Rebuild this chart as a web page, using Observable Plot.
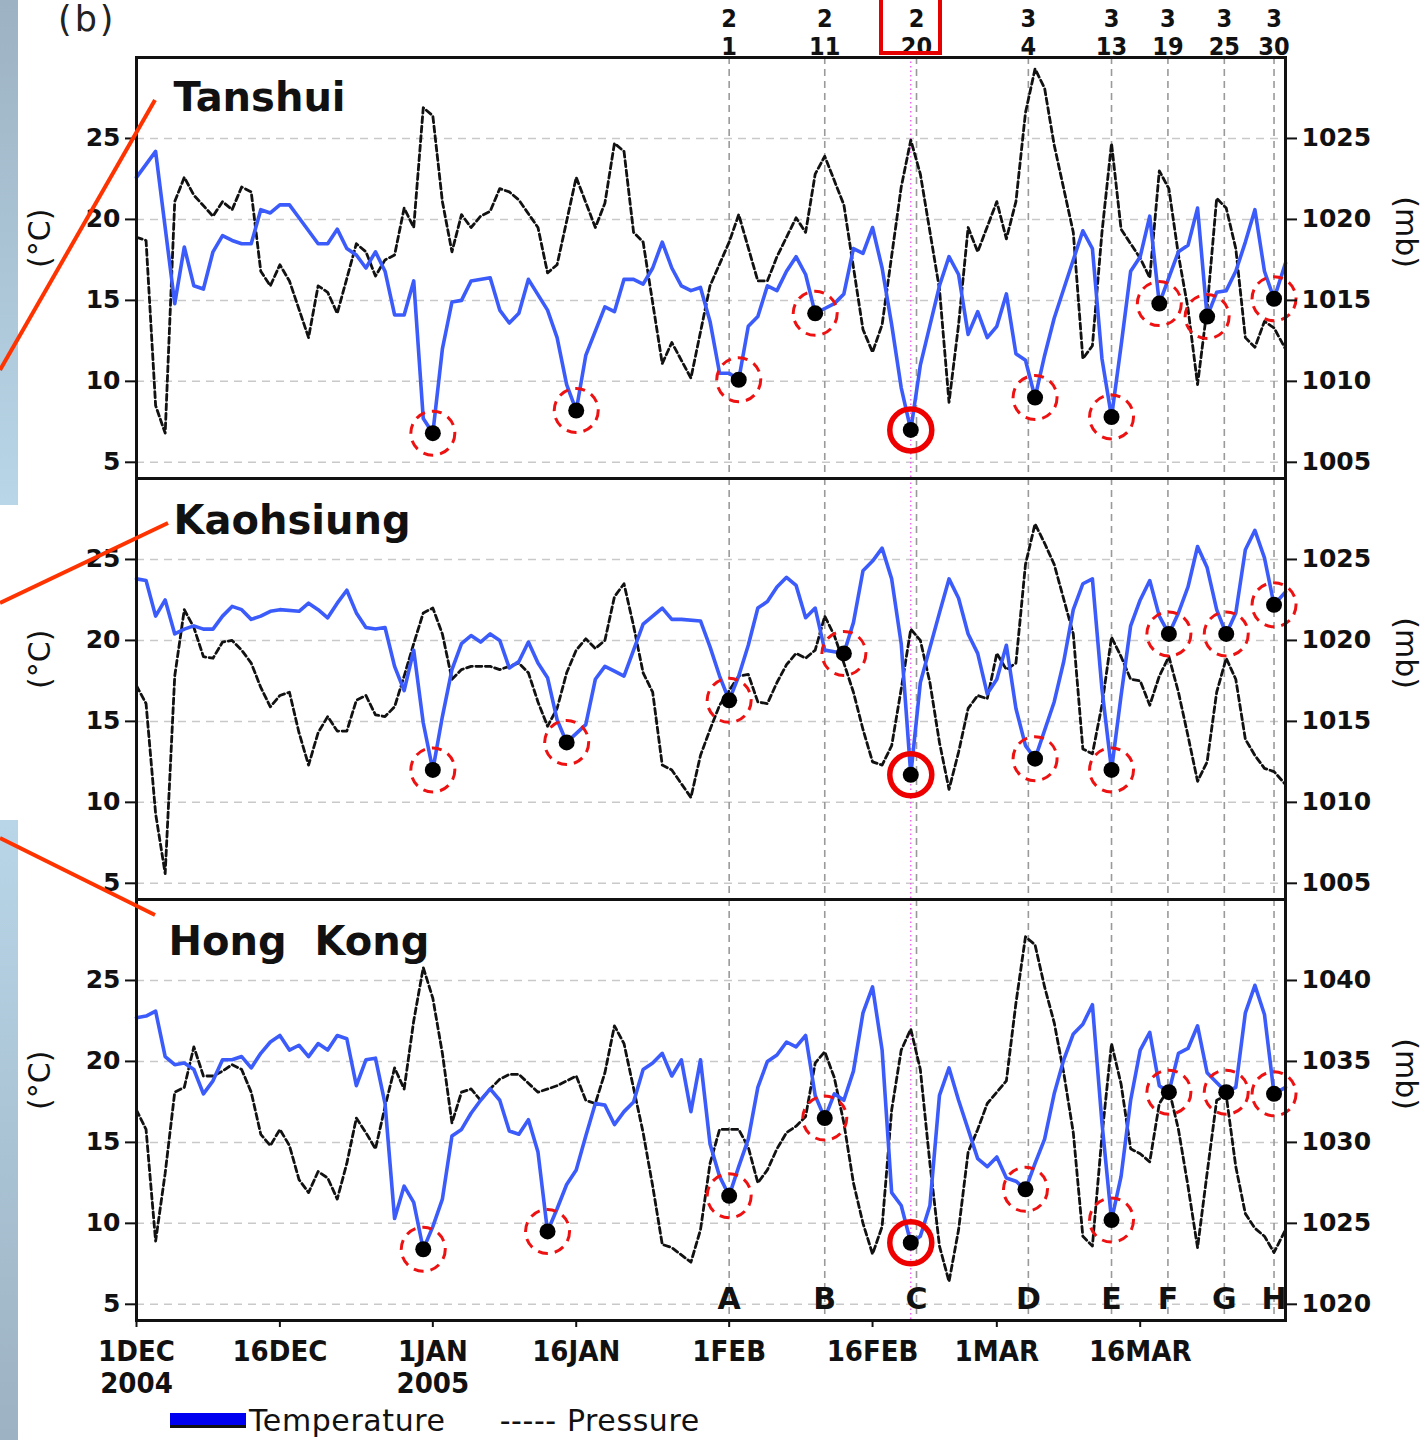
<!DOCTYPE html>
<html><head><meta charset="utf-8">
<script src="https://cdn.jsdelivr.net/npm/d3@7"></script>
<script src="https://cdn.jsdelivr.net/npm/@observablehq/plot@0.6"></script>
<style>
body{margin:0;background:#fff;}
#wrap{position:relative;width:1423px;height:1440px;overflow:hidden;background:#fff;}
#wrap svg.panel{position:absolute;left:0;overflow:visible;background:transparent !important;max-width:none;}
.deco{position:absolute;}
</style></head><body><div id="wrap"></div>
<script>
// ---- data (day offsets from 1 Dec 2004) ----
const startUTC = Date.UTC(2004, 11, 1);
const toDate = d => new Date(startUTC + d * 864e5);

const stationNames = ["Tanshui", "Kaohsiung", "Hong  Kong"];
const pressureOffsets = [1000, 1000, 1015];

const tanshuiTemp = [[0,22.6],[2,24.2],[4,14.8],[5,18.3],[6,15.9],[7,15.7],[8,18.0],[9,19.0],[10,18.7],[11,18.5],[12,18.5],[13,20.6],[14,20.4],[15,20.9],[16,20.9],[17,20.1],[19,18.5],[20,18.5],[21,19.4],[22,18.2],[23,17.8],[24,17.0],[25,18.0],[26,16.8],[27,14.1],[28,14.1],[29,16.2],[30,7.7],[31,6.8],[32,12.0],[33,14.9],[34,15.0],[35,16.2],[37,16.4],[38,14.4],[39,13.6],[40,14.2],[41,16.3],[43,14.4],[44,12.7],[45,9.8],[46,8.2],[47,11.6],[48,13.1],[49,14.6],[50,14.3],[51,16.3],[52,16.3],[53,16.0],[54,17.0],[55,18.6],[56,17.0],[57,15.9],[58,15.6],[59,15.8],[60,13.7],[61,10.5],[62,10.5],[63,10.1],[64,13.4],[65,14.0],[66,15.9],[67,15.6],[68,16.8],[69,17.7],[70,16.6],[71,14.2],[72,14.5],[73,14.8],[74,15.4],[75,18.2],[76,17.9],[77,19.5],[78,17.0],[79,13.5],[80,9.6],[81,7.0],[82,11.0],[84,15.9],[85,17.7],[86,16.6],[87,12.9],[88,14.3],[89,12.7],[90,13.4],[91,15.4],[92,11.7],[93,11.3],[94,9.0],[95,11.6],[96,13.9],[97,15.7],[99,19.3],[100,18.2],[101,11.4],[102,7.8],[103,12.2],[104,16.8],[105,17.7],[106,20.2],[107,14.8],[108,16.4],[109,18.0],[110,18.4],[111,20.7],[112,14.0],[113,15.5],[114,15.6],[115,16.8],[116,18.6],[117,20.6],[118,16.8],[119,15.1],[120.2,17.3]];
const tanshuiPres = [[0,1018.9],[1,1018.7],[2,1008.5],[3,1006.8],[4,1021.1],[5,1022.6],[6,1021.5],[8,1020.2],[9,1021.1],[10,1020.6],[11,1022.0],[12,1021.7],[13,1016.8],[14,1015.9],[15,1017.2],[16,1016.2],[18,1012.7],[19,1015.9],[20,1015.5],[21,1014.2],[23,1018.5],[24,1018.0],[25,1016.5],[26,1017.5],[27,1017.8],[28,1020.7],[29,1019.5],[30,1026.9],[31,1026.4],[32,1021.1],[33,1018.0],[34,1020.3],[35,1019.5],[36,1020.2],[37,1020.5],[38,1021.9],[39,1021.7],[40,1021.2],[42,1019.5],[43,1016.7],[44,1017.2],[46,1022.6],[48,1019.5],[49,1021.0],[50,1024.7],[51,1024.2],[52,1019.2],[53,1018.6],[55,1011.1],[56,1012.4],[58,1010.2],[60,1015.9],[62,1018.6],[63,1020.3],[65,1016.2],[66,1016.2],[67,1017.7],[69,1020.1],[70,1019.2],[71,1022.8],[72,1023.9],[74,1020.9],[76,1013.2],[77,1011.8],[78,1013.5],[80,1022.0],[81,1024.9],[82,1022.8],[84,1015.7],[85,1008.7],[86,1013.5],[87,1019.5],[88,1018.0],[90,1021.1],[91,1018.8],[92,1021.1],[93,1026.6],[94,1029.3],[95,1028.1],[96,1024.6],[98,1019.2],[99,1011.4],[100,1012.2],[101,1019.2],[102,1024.7],[103,1019.4],[105,1017.6],[106,1016.4],[107,1023.0],[108,1021.9],[109,1017.8],[110,1014.5],[111,1009.8],[112,1014.5],[113,1021.3],[114,1020.7],[115,1018.2],[116,1012.7],[117,1012.1],[118,1013.7],[119,1013.3],[120.2,1012.0]];
const tanshuiDots = [[31,6.8],[46,8.2],[63,10.1],[71,14.2],[81,7.0],[94,9.0],[102,7.8],[107,14.8],[112,14.0],[119,15.1]];

const kaohsiungTemp = [[0,23.8],[1,23.7],[2,21.5],[3,22.5],[4,20.4],[5,20.7],[6,20.9],[7,20.7],[8,20.7],[9,21.5],[10,22.1],[11,21.9],[12,21.3],[13,21.5],[14,21.8],[15,21.9],[17,21.8],[18,22.3],[19,21.9],[20,21.4],[21,22.3],[22,23.1],[23,21.7],[24,20.8],[25,20.7],[26,20.8],[27,18.4],[28,16.9],[29,19.4],[30,14.9],[31,12.0],[32,15.3],[33,18.2],[34,19.8],[35,20.3],[36,19.9],[37,20.4],[38,20.0],[39,18.3],[40,18.7],[41,19.9],[42,18.6],[43,17.7],[44,15.1],[45,13.7],[47,14.8],[48,17.6],[49,18.4],[50,18.1],[51,17.8],[52,19.4],[53,21.0],[54,21.5],[55,22.0],[56,21.3],[57,21.3],[59,21.2],[60,19.6],[61,17.8],[62,16.3],[63,17.8],[64,19.7],[65,22.0],[66,22.4],[67,23.3],[68,23.9],[69,23.4],[70,21.4],[71,22.0],[72,19.4],[73,19.3],[74,19.2],[75,21.1],[76,24.3],[77,24.9],[78,25.7],[79,23.8],[80,19.8],[81,11.7],[82,17.4],[84,21.7],[85,23.8],[86,22.6],[87,20.4],[88,19.2],[89,16.7],[90,17.6],[91,19.7],[92,15.8],[93,13.5],[94,12.7],[96,16.2],[97,18.7],[98,21.9],[99,23.5],[100,23.8],[101,17.0],[102,12.0],[103,16.6],[104,20.9],[105,22.5],[106,23.7],[107,21.5],[108,20.4],[109,21.7],[110,23.3],[111,25.8],[112,24.5],[113,21.9],[114,20.4],[115,21.7],[116,25.6],[117,26.8],[118,25.1],[119,22.2],[120.2,23.0]];
const kaohsiungPres = [[0,1017.2],[1,1016.1],[2,1009.3],[3,1005.6],[4,1017.8],[5,1021.9],[6,1020.8],[7,1019.0],[8,1018.9],[9,1019.9],[10,1020.0],[11,1019.4],[12,1018.6],[13,1017.1],[14,1015.9],[15,1016.6],[16,1016.8],[17,1014.3],[18,1012.3],[19,1014.3],[20,1015.3],[21,1014.4],[22,1014.4],[23,1016.3],[24,1016.6],[25,1015.4],[26,1015.3],[27,1015.9],[28,1017.8],[29,1019.8],[30,1021.7],[31,1022.0],[32,1020.4],[33,1017.6],[34,1018.2],[35,1018.4],[37,1018.4],[38,1018.2],[39,1018.4],[40,1018.6],[41,1018.0],[42,1016.2],[43,1014.7],[44,1015.8],[45,1018.0],[46,1019.4],[47,1020.1],[48,1019.5],[49,1020.0],[50,1022.7],[51,1023.5],[52,1020.9],[53,1018.0],[54,1016.8],[55,1012.3],[56,1012.0],[58,1010.3],[59,1012.9],[60,1014.5],[61,1016.0],[63,1017.8],[64,1017.9],[65,1016.2],[66,1016.1],[67,1017.4],[68,1018.5],[69,1019.2],[70,1018.9],[71,1019.4],[72,1021.5],[73,1020.3],[74,1018.6],[75,1016.8],[76,1014.5],[77,1012.5],[78,1012.3],[79,1013.5],[80,1017.0],[81,1020.7],[82,1020.0],[83,1017.4],[84,1013.7],[85,1010.8],[86,1013.1],[87,1015.8],[88,1016.6],[89,1016.4],[90,1019.2],[91,1018.2],[92,1018.6],[93,1024.7],[94,1027.2],[95,1026.0],[96,1024.7],[98,1020.4],[99,1013.3],[100,1013.0],[101,1016.0],[102,1020.2],[103,1019.0],[104,1017.6],[105,1017.5],[106,1016.0],[107,1017.8],[108,1019.0],[109,1016.8],[110,1014.1],[111,1011.3],[112,1012.5],[113,1016.8],[114,1018.9],[115,1017.6],[116,1013.9],[117,1012.9],[118,1012.1],[119,1011.9],[120.2,1011.1]];
const kaohsiungDots = [[31,12.0],[45,13.7],[62,16.3],[74,19.2],[81,11.7],[94,12.7],[102,12.0],[108,20.4],[114,20.4],[119,22.2]];

const hongkongTemp = [[0,22.7],[1,22.8],[2,23.1],[3,20.3],[4,19.8],[5,19.9],[6,19.5],[7,18.0],[8,18.8],[9,20.1],[10,20.1],[11,20.3],[12,19.6],[13,20.5],[14,21.2],[15,21.6],[16,20.7],[17,21.0],[18,20.3],[19,21.1],[20,20.7],[21,21.6],[22,21.4],[23,18.5],[24,20.1],[25,20.2],[26,17.4],[27,10.3],[28,12.3],[29,11.3],[30,8.4],[31,9.8],[32,11.5],[33,15.4],[34,15.8],[35,16.8],[36,17.6],[37,18.3],[38,17.6],[39,15.7],[40,15.5],[41,16.4],[42,14.4],[43,9.5],[44,10.9],[45,12.4],[46,13.3],[47,15.4],[48,17.4],[49,17.3],[50,16.1],[51,16.9],[52,17.5],[53,19.5],[54,19.9],[55,20.5],[56,19.1],[57,20.1],[58,16.9],[59,20.1],[60,14.9],[61,12.9],[62,11.7],[63,13.5],[64,15.2],[65,18.4],[66,20.0],[67,20.4],[68,21.2],[69,20.9],[70,21.6],[71,17.9],[72,16.5],[73,18.0],[74,17.6],[75,19.4],[76,23.0],[77,24.6],[78,20.7],[79,11.9],[80,11.1],[81,8.8],[82,9.2],[83,11.1],[84,17.9],[85,19.6],[86,17.6],[87,15.8],[88,14.0],[89,13.5],[90,14.1],[91,12.8],[92,12.6],[93,12.1],[94,13.7],[95,15.2],[96,18.0],[97,20.1],[98,21.7],[99,22.3],[100,23.5],[101,16.2],[102,10.2],[103,12.9],[104,17.6],[105,20.7],[106,21.8],[107,18.5],[108,18.1],[109,20.5],[110,20.8],[111,22.2],[112,19.3],[113,18.7],[114,18.1],[115,18.4],[116,23.0],[117,24.7],[118,22.9],[119,18.0],[120.2,18.4]];
const hongkongPres = [[0,1032.0],[1,1030.8],[2,1023.9],[3,1028.1],[4,1033.1],[5,1033.4],[6,1035.9],[7,1034.1],[8,1034.1],[9,1034.4],[10,1034.8],[11,1034.5],[12,1033.1],[13,1030.5],[14,1029.8],[15,1030.8],[16,1029.8],[17,1027.7],[18,1026.9],[19,1028.2],[20,1027.8],[21,1026.5],[22,1028.7],[23,1031.5],[24,1030.6],[25,1029.6],[26,1032.2],[27,1034.6],[28,1033.3],[29,1037.5],[30,1040.8],[31,1038.9],[32,1035.5],[33,1031.2],[34,1033.1],[35,1033.3],[36,1032.6],[37,1033.3],[38,1033.9],[39,1034.2],[40,1034.2],[42,1033.1],[44,1033.5],[46,1034.1],[47,1032.6],[48,1032.4],[49,1034.3],[50,1037.2],[51,1036.1],[53,1030.6],[54,1027.3],[55,1023.7],[56,1023.5],[58,1022.6],[59,1024.6],[60,1028.7],[61,1030.8],[63,1030.8],[64,1029.7],[65,1027.5],[66,1028.3],[67,1029.6],[68,1030.6],[69,1031.0],[70,1031.6],[71,1034.9],[72,1035.6],[73,1034.0],[74,1031.2],[75,1027.5],[76,1025.0],[77,1023.1],[78,1024.8],[79,1032.0],[80,1035.7],[81,1037.0],[82,1034.5],[83,1028.7],[84,1023.6],[85,1021.4],[86,1024.6],[87,1029.4],[88,1030.8],[89,1032.4],[90,1033.1],[91,1033.8],[92,1038.6],[93,1042.7],[94,1042.2],[95,1039.6],[96,1037.4],[97,1034.3],[98,1030.6],[99,1024.2],[100,1023.6],[101,1030.4],[102,1036.1],[103,1033.6],[104,1029.6],[105,1029.3],[106,1028.8],[107,1032.4],[108,1033.3],[109,1030.8],[110,1027.3],[111,1023.5],[112,1028.1],[113,1032.6],[114,1032.9],[115,1028.5],[116,1025.6],[117,1024.7],[118,1024.2],[119,1023.2],[120.2,1024.6]];
const hongkongDots = [[30,8.4],[43,9.5],[62,11.7],[72,16.5],[81,8.8],[93,12.1],[102,10.2],[108,18.1],[114,18.1],[119,18.0]];

const eventDays = [62, 72, 81.6, 93.3, 102, 107.9, 113.8, 119];
const eventMonths = ["2","2","2","3","3","3","3","3"];
const eventDates = ["1","11","20","4","13","19","25","30"];
const eventLetters = ["A","B","C","D","E","F","G","H"];
const highlightDay = 81;          // 20 Feb (solid circle, magenta line)
const yTicks = [5, 10, 15, 20, 25];
const xTickDays = [0, 15, 31, 46, 62, 77, 90, 105];
const xTickLabels = ["1DEC\n2004","16DEC","1JAN\n2005","16JAN","1FEB","16FEB","1MAR","16MAR"];

const temps = [tanshuiTemp, kaohsiungTemp, hongkongTemp];
const pressures = [tanshuiPres, kaohsiungPres, hongkongPres];
const dotsets = [tanshuiDots, kaohsiungDots, hongkongDots];

// ---- layout ----
const W = 1423, panelH = 421, topM = 57, botM = 80;
const wrap = document.getElementById("wrap");
const tickLabel = new Map(xTickDays.map((d, i) => [+toDate(d), xTickLabels[i]]));
const narrow = "'Liberation Sans Narrow', 'DejaVu Sans Condensed', sans-serif";
const sans = "'DejaVu Sans', sans-serif";

let firstPlot;
for (let i = 0; i < 3; i++) {
  const off = pressureOffsets[i];
  const mt = i === 0 ? topM : 0, mb = i === 2 ? botM : 0;
  const dots = dotsets[i];
  const marks = [
    Plot.ruleY(yTicks, {stroke: "#c9c9c9", strokeDasharray: "8,6", strokeWidth: 1.5}),
    Plot.ruleX(eventDays, {x: d => toDate(d), stroke: "#9a9a9a", strokeDasharray: "7,5", strokeWidth: 1.6}),
    Plot.ruleX([highlightDay], {x: d => toDate(d), stroke: "#f050f0", strokeDasharray: "1.5,3", strokeWidth: 1.3}),
    Plot.line(pressures[i], {x: d => toDate(d[0]), y: d => d[1] - off, stroke: "#111", strokeWidth: 2.8, strokeDasharray: "6,3.5"}),
    Plot.line(temps[i], {x: d => toDate(d[0]), y: d => d[1], stroke: "#3b5cfb", strokeWidth: 3.6}),
    Plot.dot(dots.filter(d => d[0] !== highlightDay), {x: d => toDate(d[0]), y: d => d[1], r: 22, stroke: "#ee1111", strokeWidth: 3, strokeDasharray: "10,7"}),
    Plot.dot(dots.filter(d => d[0] === highlightDay), {x: d => toDate(d[0]), y: d => d[1], r: 21, stroke: "#ee0000", strokeWidth: 5.5}),
    Plot.dot(dots, {x: d => toDate(d[0]), y: d => d[1], r: 8, fill: "#000"}),
    Plot.frame({stroke: "#111", strokeWidth: 3}),
    Plot.axisY({anchor: "left", ticks: yTicks, tickSize: 11, tickPadding: 5, strokeWidth: 2, label: null, fontSize: 25, fontWeight: "bold", fontFamily: sans}),
    Plot.axisY({anchor: "right", ticks: yTicks, tickFormat: d => String(d + off), tickSize: 11, tickPadding: 5, strokeWidth: 2, label: null, fontSize: 25, fontWeight: "bold", fontFamily: sans}),
    Plot.text([stationNames[i]], {frameAnchor: "top-left", dx: i === 2 ? 32 : 37, dy: i === 0 ? 41 : 43, textAnchor: "start", lineAnchor: "middle", fontSize: 40, fontWeight: "bold", fontFamily: sans, fill: "#111"}),
    Plot.text(["(°C)"], {frameAnchor: "left", dx: -96, rotate: -90, fontSize: 30, fontFamily: sans, fill: "#111"}),
    Plot.text(["(mb)"], {frameAnchor: "right", dx: 120, rotate: 90, fontSize: 30, fontFamily: sans, fill: "#111"})
  ];
  if (i === 0) {
    marks.push(
      Plot.text(eventDays, {x: d => toDate(d), text: (d, j) => eventMonths[j] + "\n" + eventDates[j], frameAnchor: "top", lineAnchor: "bottom", dy: -3, lineHeight: 1.12, fontSize: 25, fontWeight: "bold", fontFamily: narrow, fill: "#111"})
    );
  }
  if (i === 2) {
    marks.push(
      Plot.text(eventDays, {x: d => toDate(d), text: (d, j) => eventLetters[j], frameAnchor: "bottom", lineAnchor: "middle", dy: -21, fontSize: 30, fontWeight: "bold", fontFamily: sans, fill: "#111"}),
      Plot.axisX({anchor: "bottom", ticks: xTickDays.map(toDate), tickFormat: d => tickLabel.get(+d), tickSize: 7, tickPadding: 10, strokeWidth: 2, label: null, lineAnchor: "top", lineHeight: 1.12, fontSize: 29, fontWeight: "bold", fontFamily: narrow})
    );
  }
  const p = Plot.plot({
    width: W, height: panelH + mt + mb,
    marginLeft: 136, marginRight: 138, marginTop: mt, marginBottom: mb,
    x: {type: "utc", domain: [toDate(0), toDate(120.2)], ...(i < 2 ? {axis: null} : {})},
    y: {domain: [4, 30]},
    style: {background: "transparent", overflow: "visible", color: "#111"},
    marks
  });
  p.classList.add("panel");
  p.style.top = (i === 0 ? 0 : topM + panelH * i) + "px";
  wrap.appendChild(p);
  if (i === 0) firstPlot = p;
}

// red box around the highlighted date label (positioned through the x scale)
const hx = firstPlot.scale("x").apply(toDate(highlightDay));
const box = document.createElement("div");
box.className = "deco";
Object.assign(box.style, {left: (hx - 31) + "px", top: "-5px", width: "63px", height: "60px", border: "4px solid #e60000", boxSizing: "border-box"});
wrap.appendChild(box);

// panel tag
const tag = document.createElement("div");
tag.className = "deco";
Object.assign(tag.style, {left: "58px", top: "2px", font: "35px/1 'DejaVu Sans', sans-serif", color: "#222", letterSpacing: "3px"});
tag.textContent = "(b)";
wrap.appendChild(tag);

// legend
const legend = document.createElement("div");
legend.className = "deco";
Object.assign(legend.style, {left: "170px", top: "1404px", display: "flex", alignItems: "center", font: "30px/1.1 'DejaVu Sans', sans-serif", color: "#111", whiteSpace: "pre", letterSpacing: "0.6px"});
legend.innerHTML = '<span style="display:inline-block;width:76px;height:12px;background:#0000f0;border-bottom:3px solid #111;margin-right:3px"></span><span>Temperature</span><span style="margin-left:54px">----- Pressure</span>';
wrap.appendChild(legend);

// left-edge decorations from the source figure
const bar1 = document.createElement("div");
bar1.className = "deco";
Object.assign(bar1.style, {left: "0px", top: "0px", width: "18px", height: "505px", background: "linear-gradient(#9db2c2, #b8d6e8)"});
wrap.appendChild(bar1);
const bar2 = document.createElement("div");
bar2.className = "deco";
Object.assign(bar2.style, {left: "0px", top: "820px", width: "18px", height: "620px", background: "linear-gradient(#b8d6e8, #9db2c2)"});
wrap.appendChild(bar2);
const deco = d3.create("svg").attr("width", 200).attr("height", 1000).style("position", "absolute").style("left", "0").style("top", "0").style("pointer-events", "none");
[[155,100,0,370],[168,523,0,603],[0,838,155,915]].forEach(s => deco.append("line").attr("x1", s[0]).attr("y1", s[1]).attr("x2", s[2]).attr("y2", s[3]).attr("stroke", "#ff3300").attr("stroke-width", 4));
wrap.appendChild(deco.node());
</script></body></html>
